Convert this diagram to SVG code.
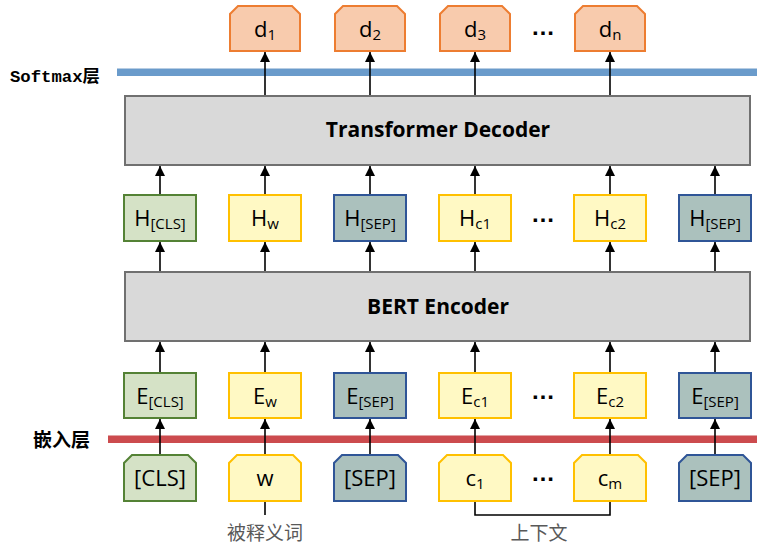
<svg xmlns="http://www.w3.org/2000/svg" width="757" height="548" viewBox="0 0 757 548">
<defs>
<marker id="ah" viewBox="0 0 10 10" refX="10" refY="5" markerWidth="10" markerHeight="10" markerUnits="userSpaceOnUse" orient="auto">
<path d="M0,0 L10,5 L0,10 Z" fill="#000"/>
</marker>
<style>
.lbl{font-family:"Open Sans","Liberation Sans",sans-serif;font-size:22px;fill:#000;text-anchor:middle}
.sub{font-size:15px}
.big{font-family:"Open Sans","Liberation Sans",sans-serif;font-size:21px;font-weight:bold;fill:#000;text-anchor:middle}
.green{fill:#d5e2c6;stroke:#548235;stroke-width:2}
.yellow{fill:#fff9c4;stroke:#ffc000;stroke-width:2}
.slate{fill:#abc1bd;stroke:#2f5597;stroke-width:2}
.orange{fill:#f8cbad;stroke:#ed7d31;stroke-width:2}
.gray{fill:#d9d9d9;stroke:#707070;stroke-width:2}
.conn{stroke:#000;stroke-width:1.6;fill:none}
.arr{stroke:#000;stroke-width:1.6;fill:none;marker-end:url(#ah)}
.dots{font-family:"Liberation Sans",sans-serif;font-size:24px;font-weight:bold;fill:#000;text-anchor:middle}
.cn{font-family:"Noto Sans CJK SC",sans-serif;font-size:19px;fill:#595959;text-anchor:middle}
</style>
</defs>

<!-- layer lines -->
<rect x="117" y="69" width="640" height="7" fill="#6a9bcb"/>
<rect x="117" y="68" width="640" height="1" fill="#b7cde3"/>
<rect x="108" y="436" width="649" height="7" fill="#cc4b4e"/>
<rect x="108" y="435" width="649" height="1" fill="#e2a3a4"/>
<text x="10" y="82" font-family="'Liberation Mono','Noto Sans CJK SC',monospace" font-size="17.3" font-weight="bold" fill="#000">Softmax层</text>
<text x="33" y="447" font-family="'Noto Sans CJK SC',sans-serif" font-size="19" font-weight="bold" fill="#000">嵌入层</text>

<!-- connectors -->
<g id="connectors">
<line class="arr" x1="265" y1="95" x2="265" y2="52"/>
<line class="arr" x1="370" y1="95" x2="370" y2="52"/>
<line class="arr" x1="475" y1="95" x2="475" y2="52"/>
<line class="arr" x1="610" y1="95" x2="610" y2="52"/>
<line class="arr" x1="160" y1="195" x2="160" y2="166"/>
<line class="arr" x1="265" y1="195" x2="265" y2="166"/>
<line class="arr" x1="370" y1="195" x2="370" y2="166"/>
<line class="arr" x1="475" y1="195" x2="475" y2="166"/>
<line class="arr" x1="610" y1="195" x2="610" y2="166"/>
<line class="arr" x1="715" y1="195" x2="715" y2="166"/>
<line class="arr" x1="160" y1="272" x2="160" y2="242"/>
<line class="arr" x1="265" y1="272" x2="265" y2="242"/>
<line class="arr" x1="370" y1="272" x2="370" y2="242"/>
<line class="arr" x1="475" y1="272" x2="475" y2="242"/>
<line class="arr" x1="610" y1="272" x2="610" y2="242"/>
<line class="arr" x1="715" y1="272" x2="715" y2="242"/>
<line class="arr" x1="160" y1="373" x2="160" y2="342"/>
<line class="arr" x1="265" y1="373" x2="265" y2="342"/>
<line class="arr" x1="370" y1="373" x2="370" y2="342"/>
<line class="arr" x1="475" y1="373" x2="475" y2="342"/>
<line class="arr" x1="610" y1="373" x2="610" y2="342"/>
<line class="arr" x1="715" y1="373" x2="715" y2="342"/>
<line class="arr" x1="160" y1="455" x2="160" y2="419"/>
<line class="arr" x1="265" y1="455" x2="265" y2="419"/>
<line class="arr" x1="370" y1="455" x2="370" y2="419"/>
<line class="arr" x1="475" y1="455" x2="475" y2="419"/>
<line class="arr" x1="610" y1="455" x2="610" y2="419"/>
<line class="arr" x1="715" y1="455" x2="715" y2="419"/>
<line class="conn" x1="265" y1="501" x2="265" y2="515"/>
<polyline class="conn" points="475,501 475,515 610,515 610,501"/>
</g>

<!-- output nodes -->
<g id="d1"><path class="orange" d="M238,6 H292 L300,14 V51 H230 V14 Z"/><text class="lbl" x="265" y="37">d<tspan class="sub" dy="3">1</tspan></text></g>
<g id="d2"><path class="orange" d="M343,6 H397 L405,14 V51 H335 V14 Z"/><text class="lbl" x="370" y="37">d<tspan class="sub" dy="3">2</tspan></text></g>
<g id="d3"><path class="orange" d="M448,6 H502 L510,14 V51 H440 V14 Z"/><text class="lbl" x="475" y="37">d<tspan class="sub" dy="3">3</tspan></text></g>
<text class="dots" x="543" y="35">…</text>
<g id="dn"><path class="orange" d="M583,6 H637 L645,14 V51 H575 V14 Z"/><text class="lbl" x="610" y="37">d<tspan class="sub" dy="3">n</tspan></text></g>

<!-- decoder -->
<g id="decoder"><rect class="gray" x="125" y="96" width="625" height="69"/><text class="big" x="438" y="137">Transformer Decoder</text></g>

<!-- H row -->
<g id="h_cls"><rect class="green" x="124" y="195" width="72" height="46"/><text class="lbl" x="160" y="226">H<tspan class="sub" dy="3">[CLS]</tspan></text></g>
<g id="h_w"><rect class="yellow" x="229" y="195" width="72" height="46"/><text class="lbl" x="265" y="226">H<tspan class="sub" dy="3">w</tspan></text></g>
<g id="h_sep1"><rect class="slate" x="334" y="195" width="72" height="46"/><text class="lbl" x="370" y="226">H<tspan class="sub" dy="3">[SEP]</tspan></text></g>
<g id="h_c1"><rect class="yellow" x="439" y="195" width="72" height="46"/><text class="lbl" x="475" y="226">H<tspan class="sub" dy="3">c1</tspan></text></g>
<text class="dots" x="543" y="222">…</text>
<g id="h_c2"><rect class="yellow" x="574" y="195" width="72" height="46"/><text class="lbl" x="610" y="226">H<tspan class="sub" dy="3">c2</tspan></text></g>
<g id="h_sep2"><rect class="slate" x="679" y="195" width="72" height="46"/><text class="lbl" x="715" y="226">H<tspan class="sub" dy="3">[SEP]</tspan></text></g>

<!-- encoder -->
<g id="encoder"><rect class="gray" x="125" y="272" width="625" height="69"/><text class="big" x="438" y="314">BERT Encoder</text></g>

<!-- E row -->
<g id="e_cls"><rect class="green" x="124" y="373" width="72" height="45"/><text class="lbl" x="160" y="404">E<tspan class="sub" dy="3">[CLS]</tspan></text></g>
<g id="e_w"><rect class="yellow" x="229" y="373" width="72" height="45"/><text class="lbl" x="265" y="404">E<tspan class="sub" dy="3">w</tspan></text></g>
<g id="e_sep1"><rect class="slate" x="334" y="373" width="72" height="45"/><text class="lbl" x="370" y="404">E<tspan class="sub" dy="3">[SEP]</tspan></text></g>
<g id="e_c1"><rect class="yellow" x="439" y="373" width="72" height="45"/><text class="lbl" x="475" y="404">E<tspan class="sub" dy="3">c1</tspan></text></g>
<text class="dots" x="543" y="399">…</text>
<g id="e_c2"><rect class="yellow" x="574" y="373" width="72" height="45"/><text class="lbl" x="610" y="404">E<tspan class="sub" dy="3">c2</tspan></text></g>
<g id="e_sep2"><rect class="slate" x="679" y="373" width="72" height="45"/><text class="lbl" x="715" y="404">E<tspan class="sub" dy="3">[SEP]</tspan></text></g>

<!-- input row -->
<g id="in_cls"><path class="green" d="M132,455 H188 L196,463 V501 H124 V463 Z"/><text class="lbl" x="160" y="486">[CLS]</text></g>
<g id="in_w"><path class="yellow" d="M237,455 H293 L301,463 V501 H229 V463 Z"/><text class="lbl" x="265" y="486">w</text></g>
<g id="in_sep1"><path class="slate" d="M342,455 H398 L406,463 V501 H334 V463 Z"/><text class="lbl" x="370" y="486">[SEP]</text></g>
<g id="in_c1"><path class="yellow" d="M447,455 H503 L511,463 V501 H439 V463 Z"/><text class="lbl" x="475" y="486">c<tspan class="sub" dy="3">1</tspan></text></g>
<text class="dots" x="543" y="481">…</text>
<g id="in_cm"><path class="yellow" d="M582,455 H638 L646,463 V501 H574 V463 Z"/><text class="lbl" x="610" y="486">c<tspan class="sub" dy="3">m</tspan></text></g>
<g id="in_sep2"><path class="slate" d="M687,455 H743 L751,463 V501 H679 V463 Z"/><text class="lbl" x="715" y="486">[SEP]</text></g>

<text class="cn" x="265" y="540">被释义词</text>
<text class="cn" x="539" y="540">上下文</text>
</svg>
